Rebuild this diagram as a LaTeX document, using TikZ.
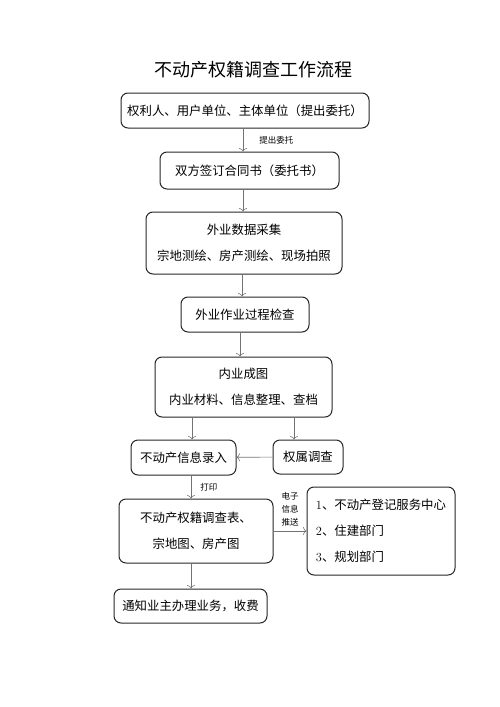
\documentclass[tikz,border=0pt]{standalone}
\usepackage{fontspec}
\newfontfamily\cjk{Noto Sans CJK SC}
\usetikzlibrary{arrows,arrows.meta,shapes,positioning}

\begin{document}
\begin{tikzpicture}[x=1pt,y=-1pt,>={To[length=3.5pt,width=8pt]}]
    \tikzset{vertex/.style = {shape=rectangle,draw=black!85,rounded corners=7pt,line width=1pt,align=center,inner sep=0pt,font=\cjk\fontsize{12.4}{26}\selectfont}}
    \tikzset{edge/.style = {->,draw=black!55,line width=0.6pt}}
    \tikzset{note/.style = {inner sep=0pt,align=center,font=\cjk\fontsize{8.5}{13}\selectfont}}
    \useasboundingbox (0,0) rectangle (500,707);
    % title
    \node[font=\cjk\fontsize{18}{20}\selectfont] (title) at (253,70) {不动产权籍调查工作流程};
    % vertices
    \node[vertex,minimum width=248,minimum height=35] (1) at (245,110.5) {权利人、用户单位、主体单位（提出委托）};
    \node[vertex,minimum width=179,minimum height=37] (2) at (249.5,170.5) {双方签订合同书（委托书）};
    \node[vertex,minimum width=196,minimum height=62] (3) at (244,243) {外业数据采集\\宗地测绘、房产测绘、现场拍照};
    \node[vertex,minimum width=128,minimum height=35] (4) at (245,314.5) {外业作业过程检查};
    \node[vertex,minimum width=177,minimum height=60] (5) at (243.5,387) {内业成图\\内业材料、信息整理、查档};
    \node[vertex,minimum width=105,minimum height=35] (6) at (183.5,457.5) {不动产信息录入};
    \node[vertex,minimum width=70,minimum height=34] (7) at (308,457) {权属调查};
    \node[vertex,minimum width=154,minimum height=64] (8) at (196,531) {不动产权籍调查表、\\宗地图、房产图};
    \node[vertex,minimum width=148,minimum height=88,align=left] (9) at (381,531) {{\rmfamily 1}、不动产登记服务中心\\{\rmfamily 2}、住建部门\\{\rmfamily 3}、规划部门};
    \node[vertex,minimum width=153,minimum height=34] (10) at (190.5,606) {通知业主办理业务，收费};
    % edges
    \draw[edge] ([xshift=-2pt]1.south) -- ([xshift=-6.5pt]2.north) node[midway,right=16pt,note] {提出委托};
    \draw[edge] ([xshift=-6.5pt]2.south) -- ([xshift=-1pt]3.north);
    \draw[edge] ([xshift=-2pt]3.south) -- ([xshift=-3pt]4.north);
    \draw[edge] ([xshift=-5pt]4.south) -- ([xshift=-3.5pt]5.north);
    \draw[edge] ([xshift=-51.5pt]5.south) -- ([xshift=8.5pt]6.north);
    \draw[edge] ([xshift=50.5pt]5.south) -- ([xshift=-14pt]7.north);
    \draw[edge] (7) -- (6);
    \draw[edge] ([xshift=7.5pt]6.south) -- ([xshift=-5pt]8.north) node[midway,right=9pt,note] {打印};
    \draw[edge] (8) -- (9) node[midway,above=5pt,note] {电子\\信息\\推送};
    \draw[edge] ([xshift=-5pt]8.south) -- ([xshift=0.5pt]10.north);
\end{tikzpicture}
\end{document}
